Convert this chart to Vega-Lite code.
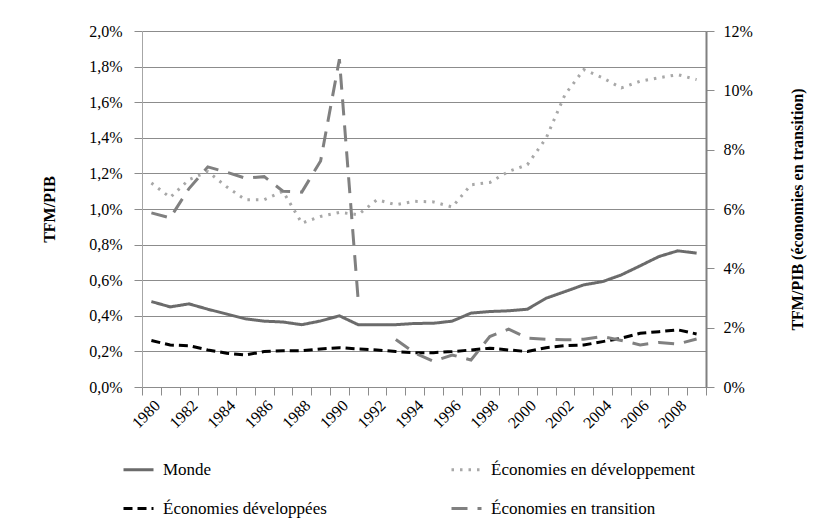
{
  "$schema": "https://vega.github.io/schema/vega-lite/v6.json",
  "width": 564,
  "height": 356,
  "autosize": {"type": "none"},
  "padding": {"left": 142, "top": 31, "right": 113, "bottom": 137},
  "background": "white",
  "config": {
    "font": "Liberation Serif",
    "view": {"stroke": null},
    "style": {"guide-label": {"font": "Liberation Serif"}, "guide-title": {"font": "Liberation Serif"}},
    "axis": {
      "labelFont": "Liberation Serif",
      "titleFont": "Liberation Serif",
      "labelColor": "black",
      "titleColor": "black",
      "labelFontSize": 16,
      "titleFontSize": 16,
      "titleFontWeight": "bold",
      "domainColor": "#8c8c8c",
      "tickColor": "#8c8c8c",
      "gridColor": "#8c8c8c"
    },
    "legend": {"labelFont": "Liberation Serif"}
  },
  "datasets": {
    "gauche": [
      {"annee": 1980, "serie": "Monde", "valeur": 0.48},
      {"annee": 1981, "serie": "Monde", "valeur": 0.45},
      {"annee": 1982, "serie": "Monde", "valeur": 0.467},
      {"annee": 1983, "serie": "Monde", "valeur": 0.437},
      {"annee": 1984, "serie": "Monde", "valeur": 0.41},
      {"annee": 1985, "serie": "Monde", "valeur": 0.383},
      {"annee": 1986, "serie": "Monde", "valeur": 0.37},
      {"annee": 1987, "serie": "Monde", "valeur": 0.365},
      {"annee": 1988, "serie": "Monde", "valeur": 0.35},
      {"annee": 1989, "serie": "Monde", "valeur": 0.371},
      {"annee": 1990, "serie": "Monde", "valeur": 0.4},
      {"annee": 1991, "serie": "Monde", "valeur": 0.35},
      {"annee": 1992, "serie": "Monde", "valeur": 0.35},
      {"annee": 1993, "serie": "Monde", "valeur": 0.35},
      {"annee": 1994, "serie": "Monde", "valeur": 0.357},
      {"annee": 1995, "serie": "Monde", "valeur": 0.358},
      {"annee": 1996, "serie": "Monde", "valeur": 0.37},
      {"annee": 1997, "serie": "Monde", "valeur": 0.415},
      {"annee": 1998, "serie": "Monde", "valeur": 0.424},
      {"annee": 1999, "serie": "Monde", "valeur": 0.428},
      {"annee": 2000, "serie": "Monde", "valeur": 0.437},
      {"annee": 2001, "serie": "Monde", "valeur": 0.499},
      {"annee": 2002, "serie": "Monde", "valeur": 0.536},
      {"annee": 2003, "serie": "Monde", "valeur": 0.574},
      {"annee": 2004, "serie": "Monde", "valeur": 0.592},
      {"annee": 2005, "serie": "Monde", "valeur": 0.63},
      {"annee": 2006, "serie": "Monde", "valeur": 0.681},
      {"annee": 2007, "serie": "Monde", "valeur": 0.733},
      {"annee": 2008, "serie": "Monde", "valeur": 0.765},
      {"annee": 2009, "serie": "Monde", "valeur": 0.752},
      {"annee": 1980, "serie": "Économies en développement", "valeur": 1.146},
      {"annee": 1981, "serie": "Économies en développement", "valeur": 1.065},
      {"annee": 1982, "serie": "Économies en développement", "valeur": 1.165},
      {"annee": 1983, "serie": "Économies en développement", "valeur": 1.21},
      {"annee": 1984, "serie": "Économies en développement", "valeur": 1.125},
      {"annee": 1985, "serie": "Économies en développement", "valeur": 1.052},
      {"annee": 1986, "serie": "Économies en développement", "valeur": 1.052},
      {"annee": 1987, "serie": "Économies en développement", "valeur": 1.099},
      {"annee": 1988, "serie": "Économies en développement", "valeur": 0.921},
      {"annee": 1989, "serie": "Économies en développement", "valeur": 0.958},
      {"annee": 1990, "serie": "Économies en développement", "valeur": 0.981},
      {"annee": 1991, "serie": "Économies en développement", "valeur": 0.968},
      {"annee": 1992, "serie": "Économies en développement", "valeur": 1.052},
      {"annee": 1993, "serie": "Économies en développement", "valeur": 1.024},
      {"annee": 1994, "serie": "Économies en développement", "valeur": 1.043},
      {"annee": 1995, "serie": "Économies en développement", "valeur": 1.04},
      {"annee": 1996, "serie": "Économies en développement", "valeur": 1.011},
      {"annee": 1997, "serie": "Économies en développement", "valeur": 1.136},
      {"annee": 1998, "serie": "Économies en développement", "valeur": 1.149},
      {"annee": 1999, "serie": "Économies en développement", "valeur": 1.211},
      {"annee": 2000, "serie": "Économies en développement", "valeur": 1.249},
      {"annee": 2001, "serie": "Économies en développement", "valeur": 1.399},
      {"annee": 2002, "serie": "Économies en développement", "valeur": 1.643},
      {"annee": 2003, "serie": "Économies en développement", "valeur": 1.783},
      {"annee": 2004, "serie": "Économies en développement", "valeur": 1.737},
      {"annee": 2005, "serie": "Économies en développement", "valeur": 1.68},
      {"annee": 2006, "serie": "Économies en développement", "valeur": 1.718},
      {"annee": 2007, "serie": "Économies en développement", "valeur": 1.737},
      {"annee": 2008, "serie": "Économies en développement", "valeur": 1.755},
      {"annee": 2009, "serie": "Économies en développement", "valeur": 1.727},
      {"annee": 1980, "serie": "Économies développées", "valeur": 0.261},
      {"annee": 1981, "serie": "Économies développées", "valeur": 0.236},
      {"annee": 1982, "serie": "Économies développées", "valeur": 0.232},
      {"annee": 1983, "serie": "Économies développées", "valeur": 0.208},
      {"annee": 1984, "serie": "Économies développées", "valeur": 0.19},
      {"annee": 1985, "serie": "Économies développées", "valeur": 0.18},
      {"annee": 1986, "serie": "Économies développées", "valeur": 0.199},
      {"annee": 1987, "serie": "Économies développées", "valeur": 0.204},
      {"annee": 1988, "serie": "Économies développées", "valeur": 0.204},
      {"annee": 1989, "serie": "Économies développées", "valeur": 0.214},
      {"annee": 1990, "serie": "Économies développées", "valeur": 0.221},
      {"annee": 1991, "serie": "Économies développées", "valeur": 0.214},
      {"annee": 1992, "serie": "Économies développées", "valeur": 0.208},
      {"annee": 1993, "serie": "Économies développées", "valeur": 0.199},
      {"annee": 1994, "serie": "Économies développées", "valeur": 0.193},
      {"annee": 1995, "serie": "Économies développées", "valeur": 0.193},
      {"annee": 1996, "serie": "Économies développées", "valeur": 0.199},
      {"annee": 1997, "serie": "Économies développées", "valeur": 0.208},
      {"annee": 1998, "serie": "Économies développées", "valeur": 0.218},
      {"annee": 1999, "serie": "Économies développées", "valeur": 0.208},
      {"annee": 2000, "serie": "Économies développées", "valeur": 0.199},
      {"annee": 2001, "serie": "Économies développées", "valeur": 0.221},
      {"annee": 2002, "serie": "Économies développées", "valeur": 0.232},
      {"annee": 2003, "serie": "Économies développées", "valeur": 0.236},
      {"annee": 2004, "serie": "Économies développées", "valeur": 0.255},
      {"annee": 2005, "serie": "Économies développées", "valeur": 0.274},
      {"annee": 2006, "serie": "Économies développées", "valeur": 0.302},
      {"annee": 2007, "serie": "Économies développées", "valeur": 0.311},
      {"annee": 2008, "serie": "Économies développées", "valeur": 0.321},
      {"annee": 2009, "serie": "Économies développées", "valeur": 0.298}
    ],
    "droite": [
      {"annee": 1980, "serie": "Économies en transition", "valeur": 5.87},
      {"annee": 1981, "serie": "Économies en transition", "valeur": 5.7},
      {"annee": 1982, "serie": "Économies en transition", "valeur": 6.69},
      {"annee": 1983, "serie": "Économies en transition", "valeur": 7.42},
      {"annee": 1984, "serie": "Économies en transition", "valeur": 7.24},
      {"annee": 1985, "serie": "Économies en transition", "valeur": 7.04},
      {"annee": 1986, "serie": "Économies en transition", "valeur": 7.09},
      {"annee": 1987, "serie": "Économies en transition", "valeur": 6.6},
      {"annee": 1988, "serie": "Économies en transition", "valeur": 6.57},
      {"annee": 1989, "serie": "Économies en transition", "valeur": 7.62},
      {"annee": 1990, "serie": "Économies en transition", "valeur": 11.05},
      {"annee": 1991, "serie": "Économies en transition", "valeur": 2.92},
      {"annee": 1992, "serie": "Économies en transition", "valeur": null},
      {"annee": 1993, "serie": "Économies en transition", "valeur": 1.6},
      {"annee": 1994, "serie": "Économies en transition", "valeur": 1.15},
      {"annee": 1995, "serie": "Économies en transition", "valeur": 0.87},
      {"annee": 1996, "serie": "Économies en transition", "valeur": 1.08},
      {"annee": 1997, "serie": "Économies en transition", "valeur": 0.91},
      {"annee": 1998, "serie": "Économies en transition", "valeur": 1.7},
      {"annee": 1999, "serie": "Économies en transition", "valeur": 1.95},
      {"annee": 2000, "serie": "Économies en transition", "valeur": 1.65},
      {"annee": 2001, "serie": "Économies en transition", "valeur": 1.61},
      {"annee": 2002, "serie": "Économies en transition", "valeur": 1.59},
      {"annee": 2003, "serie": "Économies en transition", "valeur": 1.61},
      {"annee": 2004, "serie": "Économies en transition", "valeur": 1.7},
      {"annee": 2005, "serie": "Économies en transition", "valeur": 1.57},
      {"annee": 2006, "serie": "Économies en transition", "valeur": 1.42},
      {"annee": 2007, "serie": "Économies en transition", "valeur": 1.5},
      {"annee": 2008, "serie": "Économies en transition", "valeur": 1.45},
      {"annee": 2009, "serie": "Économies en transition", "valeur": 1.62}
    ]
  },
  "layer": [
    {
      "data": {"name": "gauche"},
      "mark": {"type": "line", "strokeWidth": 3, "invalid": "break-paths-show-domains"},
      "encoding": {
        "x": {
          "field": "annee", "type": "ordinal",
          "scale": {"type": "band", "paddingInner": 0, "paddingOuter": 0},
          "axis": {"title": null, "tickBand": "extent", "tickSize": 8, "labelAngle": 315, "labelPadding": 2,
                   "labelFont": "Liberation Serif", "labelFontSize": 16,
                   "labelExpr": "datum.value % 2 == 0 ? datum.label : ''", "grid": false}
        },
        "y": {
          "field": "valeur", "type": "quantitative",
          "scale": {"domain": [0, 2], "nice": false},
          "axis": {"title": "TFM/PIB", "values": [0, 0.2, 0.4, 0.6, 0.8, 1.0, 1.2, 1.4, 1.6, 1.8, 2.0],
                   "labelExpr": "replace(format(datum.value, '.1f'), '.', ',') + '%'",
                   "labelFont": "Liberation Serif", "labelFontSize": 16,
                   "grid": true, "tickSize": 8, "labelPadding": 12, "domainColor": "#a6a6a6",
                   "titleAngle": 270, "titleX": -93, "titleY": 178, "titleAlign": "center", "titleBaseline": "middle"}
        },
        "color": {
          "field": "serie", "type": "nominal",
          "sort": ["Monde", "Économies en développement", "Économies développées", "Économies en transition"],
          "scale": {"domain": ["Monde", "Économies en développement", "Économies développées", "Économies en transition"],
                    "range": ["#6b6b6b", "#a8a8a8", "#000000", "#808080"]},
          "legend": {"orient": "none", "legendX": -20, "legendY": 422, "columns": 2, "direction": "horizontal",
                     "columnPadding": 118, "rowPadding": 14,
                     "symbolType": "stroke", "symbolSize": 900, "symbolStrokeWidth": 3, "labelFontSize": 17, "labelOffset": 8,
                     "labelFont": "Liberation Serif",
                     "labelColor": "black", "title": null, "padding": 0, "labelLimit": 400}
        },
        "strokeDash": {
          "field": "serie", "type": "nominal",
          "sort": ["Monde", "Économies en développement", "Économies développées", "Économies en transition"],
          "scale": {"domain": ["Monde", "Économies en développement", "Économies développées", "Économies en transition"],
                    "range": [[1, 0], [2.5, 6], [9, 5], [16, 10]]},
          "legend": {"orient": "none", "legendX": -20, "legendY": 422, "columns": 2, "direction": "horizontal",
                     "columnPadding": 118, "rowPadding": 14,
                     "symbolType": "stroke", "symbolSize": 900, "symbolStrokeWidth": 3, "labelFontSize": 17, "labelOffset": 8,
                     "labelFont": "Liberation Serif",
                     "labelColor": "black", "title": null, "padding": 0, "labelLimit": 400}
        }
      }
    },
    {
      "data": {"name": "droite"},
      "mark": {"type": "line", "strokeWidth": 3, "invalid": "break-paths-show-domains"},
      "encoding": {
        "x": {
          "field": "annee", "type": "ordinal",
          "scale": {"type": "band", "paddingInner": 0, "paddingOuter": 0},
          "axis": {"title": null, "tickBand": "extent", "tickSize": 8, "labelAngle": 315, "labelPadding": 2,
                   "labelFont": "Liberation Serif", "labelFontSize": 16,
                   "labelExpr": "datum.value % 2 == 0 ? datum.label : ''", "grid": false}
        },
        "y": {
          "field": "valeur", "type": "quantitative",
          "scale": {"domain": [0, 12], "nice": false},
          "axis": {"orient": "right", "title": "TFM/PIB (économies en transition)", "values": [0, 2, 4, 6, 8, 10, 12],
                   "labelExpr": "format(datum.value, 'd') + '%'", "grid": false, "tickSize": 8, "labelPadding": 9,
                   "labelFont": "Liberation Serif", "labelFontSize": 16,
                   "domainColor": "#808080", "domainWidth": 2,
                   "titleAngle": 270, "titleX": 91, "titleY": 178, "titleAlign": "center", "titleBaseline": "middle"}
        },
        "color": {
          "field": "serie", "type": "nominal",
          "sort": ["Monde", "Économies en développement", "Économies développées", "Économies en transition"],
          "scale": {"domain": ["Monde", "Économies en développement", "Économies développées", "Économies en transition"],
                    "range": ["#6b6b6b", "#a8a8a8", "#000000", "#808080"]}
        },
        "strokeDash": {
          "field": "serie", "type": "nominal",
          "sort": ["Monde", "Économies en développement", "Économies développées", "Économies en transition"],
          "scale": {"domain": ["Monde", "Économies en développement", "Économies développées", "Économies en transition"],
                    "range": [[1, 0], [2.5, 6], [9, 5], [16, 10]]}
        }
      }
    }
  ],
  "resolve": {"scale": {"y": "independent"}, "axis": {"y": "independent"}}
}
